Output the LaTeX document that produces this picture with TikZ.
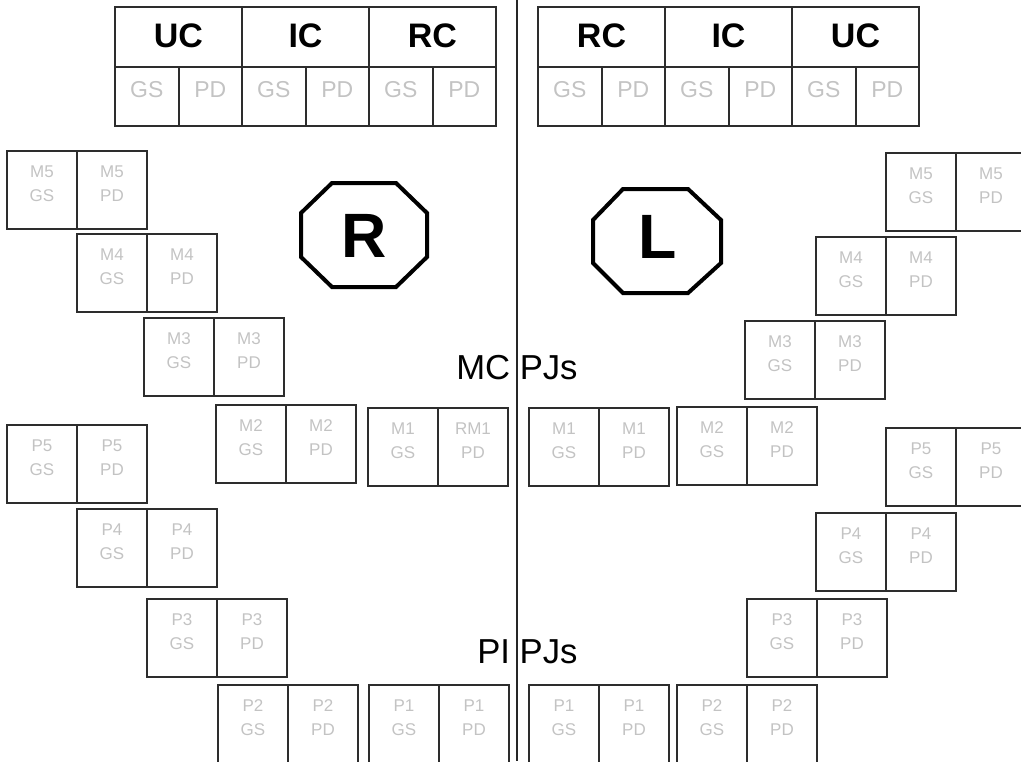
\documentclass[tikz,border=0pt]{standalone}
\usepackage{fontspec}
\setmainfont{Liberation Sans}
\usetikzlibrary{calc}
\definecolor{boxline}{RGB}{45,45,45}
\definecolor{celltxt}{RGB}{195,195,195}
\tikzset{
  cell/.style={draw=boxline, line width=1.5pt, minimum width=52.5pt, minimum height=58.5pt, inner sep=0pt, outer sep=0pt, anchor=north west},
  ctext/.style={text=celltxt, font=\fontsize{12.75}{13}\selectfont, inner sep=0pt, anchor=base},
  headcell/.style={draw=boxline, line width=1.5pt, minimum width=95.25pt, minimum height=45pt, inner sep=0pt, outer sep=0pt, anchor=north west},
  subcell/.style={draw=boxline, line width=1.5pt, minimum width=47.625pt, minimum height=44.25pt, inner sep=0pt, outer sep=0pt, anchor=north west},
  headtext/.style={font=\fontsize{25.5}{26}\selectfont\bfseries, inner sep=0pt, anchor=base},
  subtext/.style={text=celltxt, font=\fontsize{17.25}{18}\selectfont, inner sep=0pt, anchor=base},
  bigletter/.style={font=\fontsize{47}{48}\selectfont\bfseries, inner sep=0pt, anchor=base},
  octline/.style={line width=3pt, line join=miter},
  jawtext/.style={font=\fontsize{26}{27}\selectfont, inner sep=0pt, anchor=base west},
  midline/.style={line width=1.5pt, draw=black!85},
}
\newcommand\cellpair[5]{%
  \node[cell] (#1g) at (#2,#3) {};
  \node[cell] (#1p) at (#1g.north east) {};
  \node[ctext] (#1ga) at ($(#1g.north)+(0,26)$) {#4};
  \node[ctext] (#1gb) at ($(#1g.north)+(0,50)$) {GS};
  \node[ctext] (#1pa) at ($(#1p.north)+(0,26)$) {#5};
  \node[ctext] (#1pb) at ($(#1p.north)+(0,50)$) {PD};
}
\newcommand\headgroup[3]{% name, x, label
  \node[headcell] (#1) at (#2,7) {};
  \node[headtext] (#1t) at ($(#1.north)+(0,40)$) {#3};
  \node[subcell] (#1g) at (#1.south west) {};
  \node[subcell] (#1p) at (#1g.north east) {};
  \node[subtext] (#1gt) at ($(#1g.north)+(0,30)$) {GS};
  \node[subtext] (#1pt) at ($(#1p.north)+(0,30)$) {PD};
}
\begin{document}
\begin{tikzpicture}[x=0.75pt,y=-0.75pt]
\useasboundingbox (0,0) rectangle (1021,761);
% top tables
\headgroup{lu}{115}{UC}
\headgroup{li}{242}{IC}
\headgroup{lr}{369}{RC}
\headgroup{rr}{538}{RC}
\headgroup{ri}{665}{IC}
\headgroup{ru}{792}{UC}
% centre line
\coordinate (ctop) at (517,0);
\coordinate (cbot) at (517,761);
\draw[midline] (ctop) -- (cbot);
% octagons
\node[bigletter] (R) at (364,257) {R};
\draw[octline] (332,183) -- (396,183) -- (427,213) -- (427,257) -- (396,287) -- (332,287) -- (301,257) -- (301,213) -- cycle;
\node[bigletter] (L) at (658,258) {L};
\draw[octline] (623,189) -- (688,189) -- (721,220) -- (721,263) -- (688,293) -- (623,293) -- (593,263) -- (593,220) -- cycle;
% labels
\node[jawtext] (mc) at (456,379) {MC PJs};
\node[jawtext] (pi) at (477,663) {PI PJs};
% upper (MC) teeth
\cellpair{lmv}{7}{151}{M5}{M5}
\cellpair{lmiv}{77}{234}{M4}{M4}
\cellpair{lmiii}{144}{318}{M3}{M3}
\cellpair{lmii}{216}{405}{M2}{M2}
\cellpair{lmi}{368}{408}{M1}{RM1}
\cellpair{rmi}{529}{408}{M1}{M1}
\cellpair{rmii}{677}{407}{M2}{M2}
\cellpair{rmiii}{745}{321}{M3}{M3}
\cellpair{rmiv}{816}{237}{M4}{M4}
\cellpair{rmv}{886}{153}{M5}{M5}
% lower (PI) teeth
\cellpair{lpv}{7}{425}{P5}{P5}
\cellpair{lpiv}{77}{509}{P4}{P4}
\cellpair{lpiii}{147}{599}{P3}{P3}
\cellpair{lpii}{218}{685}{P2}{P2}
\cellpair{lpi}{369}{685}{P1}{P1}
\cellpair{rpi}{529}{685}{P1}{P1}
\cellpair{rpii}{677}{685}{P2}{P2}
\cellpair{rpiii}{747}{599}{P3}{P3}
\cellpair{rpiv}{816}{513}{P4}{P4}
\cellpair{rpv}{886}{428}{P5}{P5}
\end{tikzpicture}
\end{document}
